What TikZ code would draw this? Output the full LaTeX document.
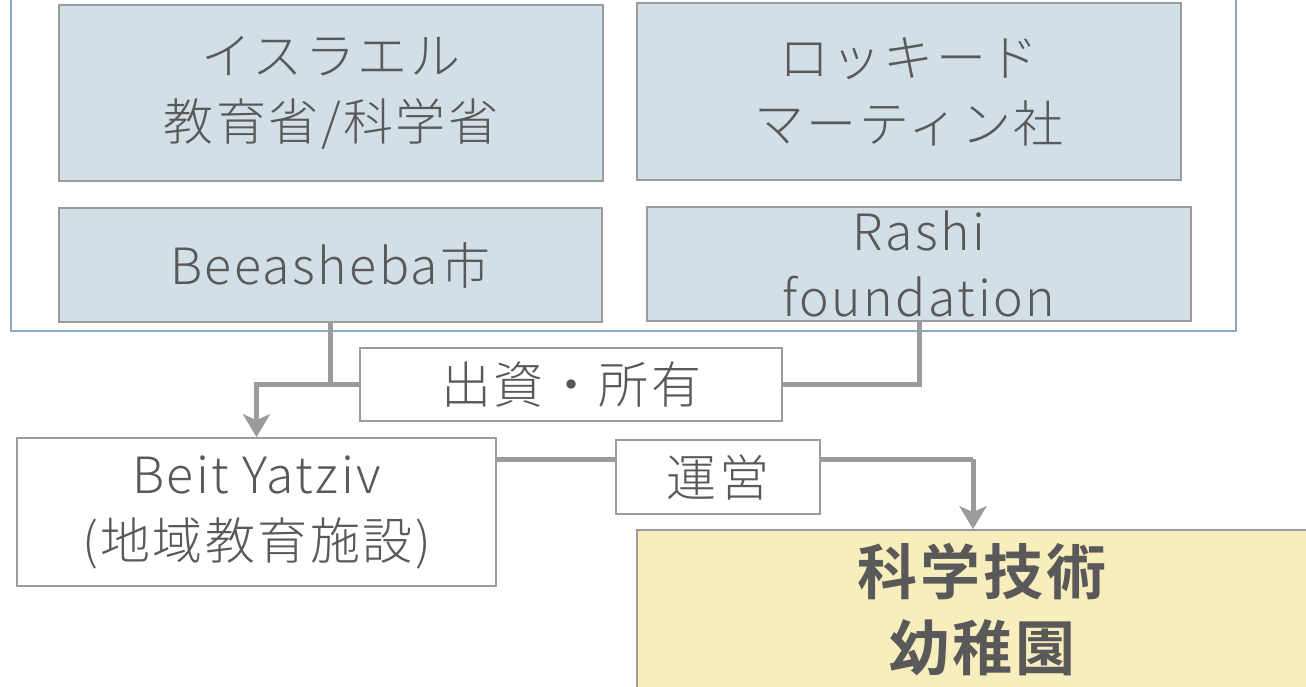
\documentclass[tikz,border=0pt]{standalone}
\usepackage{fontspec}
\setmainfont{Noto Sans CJK JP}[UprightFont={* Light}, BoldFont={* Bold}, LetterSpace=5]
\usepackage{tikz}
\usetikzlibrary{arrows.meta, calc, positioning}
\definecolor{orgblue}{HTML}{D3DFE6}
\definecolor{orgframe}{HTML}{86AABE}
\definecolor{kgyellow}{HTML}{F8EDBD}
\definecolor{txtgray}{HTML}{595959}
\definecolor{linegray}{HTML}{9B9B9B}
\tikzset{
	orgbox/.style={draw=linegray, line width=0.8pt, fill=orgblue, text=txtgray, align=center, inner sep=0pt, font=\fontsize{25}{33}\selectfont},
	tagbox/.style={draw=linegray, line width=0.8pt, fill=white, text=txtgray, align=center, inner sep=0pt, font=\fontsize{25}{33}\selectfont},
	flow/.style={draw=linegray, line width=2.5pt},
	flowarrow/.style={flow, -{Stealth[length=11.5pt,width=13.5pt,inset=3pt]}}
}

\begin{document}
\begin{tikzpicture}[x=0.5pt,y=-0.5pt]
	\useasboundingbox (0,0) rectangle (1306,686);
	
	% outer frame of the owners
	\draw[orgframe, line width=0.8pt] (11,-20) rectangle (1236,331);
	
	\node[orgbox, minimum width=272pt, minimum height=88pt] (israel) at (331,93) {イスラエル\\教育省/科学省};
	\node[orgbox, minimum width=272pt, minimum height=88.5pt] (lockheed) at (909,91.5) {ロッキード\\マーティン社};
	\node[orgbox, minimum width=271.5pt, minimum height=57pt] (city) at (330.5,265) {Beeasheba市};
	\node[orgbox, minimum width=272pt, minimum height=57pt] (rashi) at (919,264) {Rashi\\foundation};
	
	\node[tagbox, minimum width=211pt, minimum height=36.5pt] (fund) at (571,384.5) {出資・所有};
	\node[tagbox, minimum width=239.5pt, minimum height=74pt] (beit) at (256.5,512) {Beit Yatziv\\(地域教育施設)};
	
	% connectors
	\coordinate (join) at (city.south |- fund.west);
	\draw[flow] (city.south) -- (join) -- (fund.west);
	\draw[flow] (rashi.south) |- (fund.east);
	\draw[flowarrow] (join) -| (beit.north);
	
	\coordinate (beitout) at (496,459);
	\coordinate (turn) at (973,459);
	\draw[flow] (beitout) -- (turn);
	
	\node[tagbox, minimum width=102pt, minimum height=37pt] (run) at (718,477) {運営};
	\node[draw=linegray, line width=0.8pt, fill=kgyellow, text=txtgray, align=center, inner sep=0pt, minimum width=345pt, minimum height=80pt, font=\bfseries\fontsize{30}{38}\selectfont] (kinder) at (982,610) {科学技術\\幼稚園};
	\draw[flowarrow] (turn) -- (kinder.north -| turn);
	
\end{tikzpicture}
\end{document}
